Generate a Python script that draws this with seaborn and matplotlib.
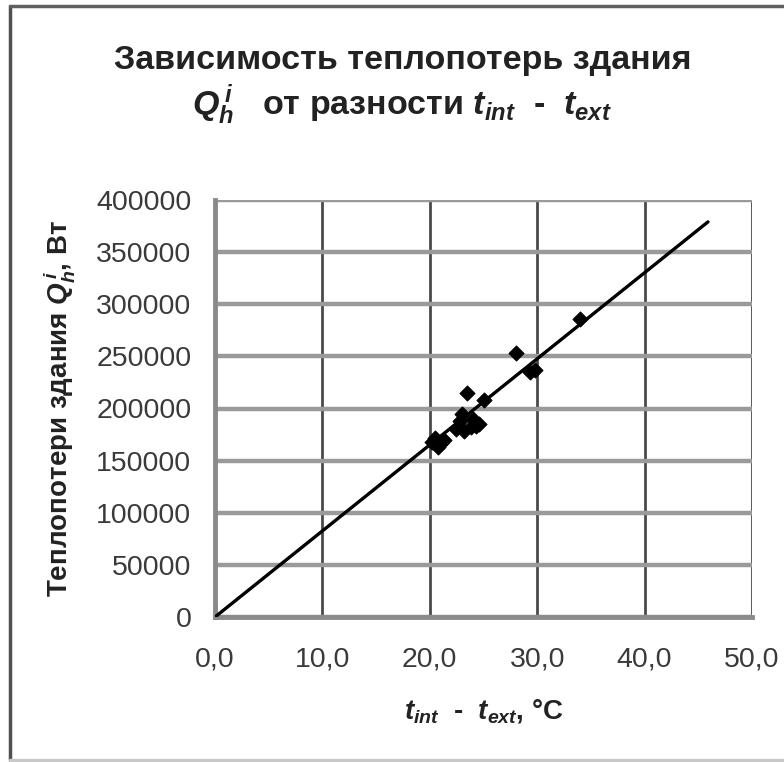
import matplotlib
matplotlib.use("Agg")
import matplotlib.pyplot as plt
from matplotlib.lines import Line2D
import seaborn as sns
import pandas as pd
from matplotlib.ticker import FuncFormatter

# Measured heat loss vs indoor-outdoor temperature difference
dt_points = [20.2, 20.5, 20.8, 21.0, 21.3, 22.4, 22.8, 23.0, 23.2, 23.5,
             23.8, 24.0, 24.3, 24.6, 25.0, 28.0, 29.3, 29.8, 34.0]
q_points = [168000, 172000, 163000, 167000, 170000, 180000, 188000, 195000,
            178000, 215000, 182000, 190000, 183000, 185000, 208000, 253000,
            235000, 237000, 286000]

# Linear trend through the origin
trend_dt = [0.0, 45.9]
trend_q = [0.0, 379000]

x_ticks = [0, 10, 20, 30, 40, 50]
y_ticks = [0, 50000, 100000, 150000, 200000, 250000, 300000, 350000, 400000]

sns.set_theme(style="white")
plt.rcParams["font.family"] = ["Liberation Sans", "DejaVu Sans"]
plt.rcParams["mathtext.fontset"] = "custom"
plt.rcParams["mathtext.it"] = "Liberation Sans:italic:bold"
plt.rcParams["mathtext.rm"] = "Liberation Sans:bold"
plt.rcParams["mathtext.bf"] = "Liberation Sans:bold"

W, H = 784, 762
fig = plt.figure(figsize=(W / 100, H / 100), dpi=100)
ax = fig.add_axes([215 / W, 1 - 617 / H, (752 - 215) / W, (617 - 200) / H])

# Outer chart frame: dark left/top edges, light bottom edge
fig.lines.append(Line2D([10 / W, 10 / W], [2 / H, 1 - 6 / H], transform=fig.transFigure,
                        color="#505050", linewidth=2.5))
fig.lines.append(Line2D([10 / W, 1.0], [1 - 6 / H, 1 - 6 / H], transform=fig.transFigure,
                        color="#606060", linewidth=2.5))
fig.lines.append(Line2D([10 / W, 1.0], [2 / H, 2 / H], transform=fig.transFigure,
                        color="#c8c8c8", linewidth=2.5))

scatter_df = pd.DataFrame({"dt": dt_points, "q": q_points})
trend_df = pd.DataFrame({"dt": trend_dt, "q": trend_q})

sns.lineplot(data=trend_df, x="dt", y="q", ax=ax, color="black", linewidth=2.4,
             zorder=3)
sns.scatterplot(data=scatter_df, x="dt", y="q", ax=ax, marker="D", s=60,
                color="black", edgecolor="black", zorder=4)

ax.set_xlim(0, 50)
ax.set_ylim(0, 400000)
ax.set_xticks(x_ticks)
ax.set_yticks(y_ticks)
ax.xaxis.set_major_formatter(FuncFormatter(lambda v, p: f"{v:.1f}".replace(".", ",")))
ax.yaxis.set_major_formatter(FuncFormatter(lambda v, p: f"{int(v)}"))

ax.grid(axis="y", color="#9a9a9a", linewidth=3.2, zorder=1)
ax.grid(axis="x", color="#4a4a4a", linewidth=2.0, zorder=1)
ax.set_axisbelow(True)

for side in ["top", "right"]:
    ax.spines[side].set_visible(False)
for side in ["left", "bottom"]:
    ax.spines[side].set_color("#8a8a8a")
    ax.spines[side].set_linewidth(3.5)

ax.tick_params(axis="both", which="major", direction="inout", length=10, width=2,
               color="#555555", labelsize=20.5, labelcolor="#3a3a3a")
ax.tick_params(axis="y", pad=12)
ax.tick_params(axis="x", pad=16)

ax.set_xlabel("$t_{int}$  -  $t_{ext}$, °C", fontsize=20, fontweight="bold",
              color="#222222", labelpad=18)
ax.set_ylabel("Теплопотери здания $Q_h^{\\,i}$, Вт", fontsize=20,
              fontweight="bold", color="#222222", labelpad=14)

fig.text(403 / W, 1 - 60 / H, "Зависимость теплопотерь здания",
         ha="center", va="center", fontsize=24.5, fontweight="bold", color="#222222")
fig.text(402 / W, 1 - 105 / H,
         "$Q_h^{\\,i}$   от разности $t_{int}$  -  $t_{ext}$",
         ha="center", va="center", fontsize=24.5, fontweight="bold", color="#222222")

fig.savefig("out.png", dpi=100, facecolor="white")
